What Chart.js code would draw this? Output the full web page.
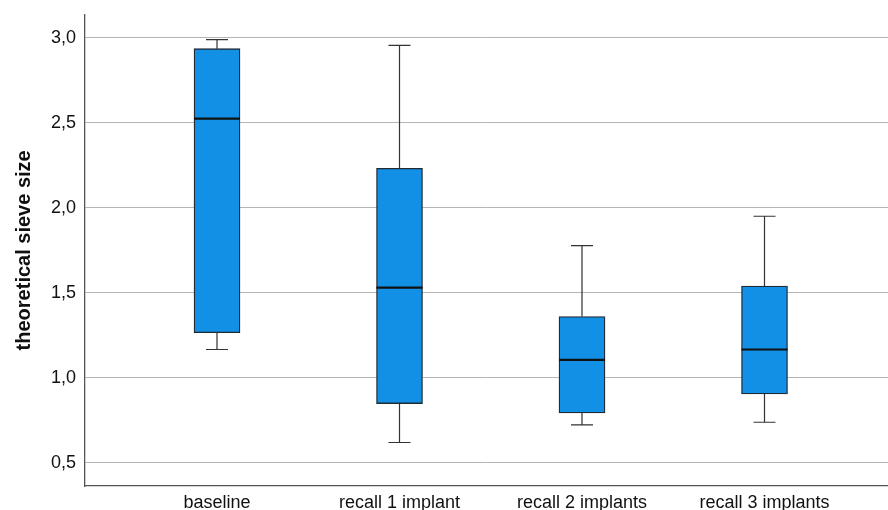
<!DOCTYPE html>
<html>
<head>
<meta charset="utf-8">
<script src="https://cdn.jsdelivr.net/npm/chart.js@4.4.1/dist/chart.umd.min.js"></script>
<style>
html,body{margin:0;padding:0;background:#fff;}
#wrap{width:888px;height:510px;}
</style>
</head>
<body>
<div id="wrap"><canvas id="c" width="888" height="510"></canvas></div>
<script>
const categories = ['baseline', 'recall 1 implant', 'recall 2 implants', 'recall 3 implants'];
const whiskerMin = [1.165, 0.618, 0.722, 0.737];
const q1 = [1.264, 0.847, 0.792, 0.904];
const median = [2.524, 1.529, 1.104, 1.165];
const q3 = [2.935, 2.231, 1.359, 1.539];
const whiskerMax = [2.988, 2.955, 1.776, 1.949];
const yTicks = [0.5, 1.0, 1.5, 2.0, 2.5, 3.0];
const xPositions = [1, 2, 3, 4];

const boxData = categories.map((c, i) => ({x: xPositions[i], y: [q1[i], q3[i]]}));

const boxPlugin = {
  id: 'boxExtras',
  beforeDatasetsDraw(chart) {
    const ctx = chart.ctx, xs = chart.scales.x, ys = chart.scales.y;
    ctx.save();
    ctx.strokeStyle = '#333';
    ctx.lineWidth = 1.2;
    categories.forEach((c, i) => {
      const x = xs.getPixelForValue(xPositions[i]);
      const yMin = ys.getPixelForValue(whiskerMin[i]);
      const yMax = ys.getPixelForValue(whiskerMax[i]);
      const yQ1 = ys.getPixelForValue(q1[i]);
      const yQ3 = ys.getPixelForValue(q3[i]);
      ctx.beginPath();
      ctx.moveTo(x, yQ3); ctx.lineTo(x, yMax);
      ctx.moveTo(x, yQ1); ctx.lineTo(x, yMin);
      ctx.moveTo(x - 11, yMax); ctx.lineTo(x + 11, yMax);
      ctx.moveTo(x - 11, yMin); ctx.lineTo(x + 11, yMin);
      ctx.stroke();
    });
    ctx.restore();
  },
  afterDatasetsDraw(chart) {
    const ctx = chart.ctx, xs = chart.scales.x, ys = chart.scales.y;
    ctx.save();
    ctx.strokeStyle = '#111';
    ctx.lineWidth = 2.2;
    categories.forEach((c, i) => {
      const x = xs.getPixelForValue(xPositions[i]);
      const y = ys.getPixelForValue(median[i]);
      ctx.beginPath();
      ctx.moveTo(x - 23, y); ctx.lineTo(x + 23, y);
      ctx.stroke();
    });
    ctx.restore();
  }
};

new Chart(document.getElementById('c'), {
  type: 'bar',
  data: {
    datasets: [{
      data: boxData,
      backgroundColor: '#1290E6',
      borderColor: '#1f2a33',
      borderWidth: 1.3,
      borderSkipped: false,
      barThickness: 46
    }]
  },
  plugins: [boxPlugin],
  options: {
    responsive: false,
    animation: false,
    devicePixelRatio: 1,
    layout: {padding: {top: 14.7, right: 0, left: 0, bottom: 0}},
    plugins: {legend: {display: false}, tooltip: {enabled: false}},
    scales: {
      x: {
        type: 'linear',
        offset: false,
        min: 0.2767,
        max: 4.6767,
        afterBuildTicks(s) { s.ticks = xPositions.map(v => ({value: v})); },
        afterFit(s) { s.height = 24; s.paddingLeft = 0; s.paddingRight = 0; },
        ticks: {
          callback: (v) => categories[xPositions.indexOf(v)] || '',
          color: '#111',
          font: {family: 'Liberation Sans, Arial, sans-serif', size: 18},
          padding: 6,
          maxRotation: 0,
          autoSkip: false
        },
        grid: {display: false, drawTicks: false},
        border: {display: true, color: '#555', width: 1.3}
      },
      y: {
        type: 'linear',
        min: 0.362,
        max: 3.135,
        afterBuildTicks(s) { s.ticks = yTicks.map(v => ({value: v})); },
        afterFit(s) { s.width = 85; s.paddingTop = 0; s.paddingBottom = 0; },
        ticks: {
          callback: (v) => v.toFixed(1).replace('.', ','),
          color: '#111',
          font: {family: 'Liberation Sans, Arial, sans-serif', size: 18},
          padding: 9
        },
        grid: {color: '#b5b5b5', lineWidth: 1, drawTicks: false},
        border: {display: true, color: '#555', width: 1.3},
        title: {
          display: true,
          text: 'theoretical sieve size',
          color: '#111',
          font: {family: 'Liberation Sans, Arial, sans-serif', size: 20, weight: 'bold'},
          padding: {top: 12, bottom: 0}
        }
      }
    }
  }
});
</script>
</body>
</html>
